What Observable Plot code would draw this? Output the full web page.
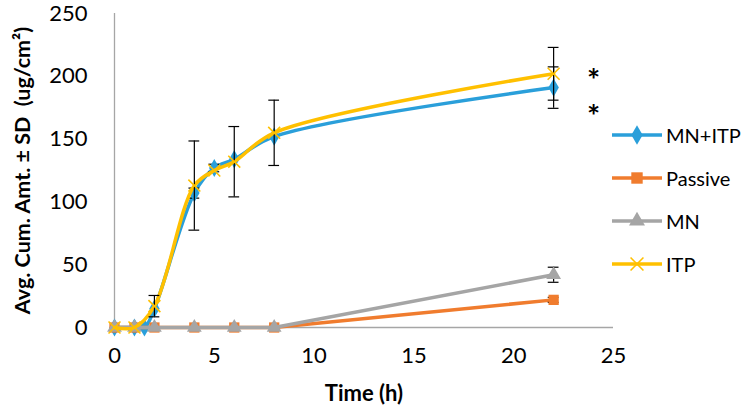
<!DOCTYPE html>
<html>
<head>
<meta charset="utf-8">
<script src="https://cdn.jsdelivr.net/npm/d3@7"></script>
<script src="https://cdn.jsdelivr.net/npm/@observablehq/plot@0.6"></script>
<style>
  html, body { margin: 0; padding: 0; background: #fff; }
  #wrap { position: relative; width: 743px; height: 416px; font-family: Lato, "Open Sans", sans-serif; }
  #legend { position: absolute; left: 611px; top: 113px; }
  .row { display: flex; align-items: center; height: 43px; font-size: 20px; color: #000; white-space: nowrap; }
  .row span { margin-left: 3px; }
</style>
</head>
<body>
<div id="wrap"><div id="legend"></div></div>
<script>
// ---- data ----
const seriesNames = ["MN+ITP", "Passive", "MN", "ITP"];
const seriesColors = ["#2A9FDA", "#F07C2E", "#A5A5A5", "#FFC000"];
const seriesSymbols = ["diamond", "square", "triangle", "times"];

const timeMNITP = [0, 1, 1.5, 2, 4, 5, 6, 8, 22];
const valMNITP  = [0, 0, 0, 15, 107, 127, 134, 152, 191];
const errMNITP  = [0, 0, 0, 0, 4, 3, 0, 0, 16.5];

const timePassive = [0, 1, 2, 4, 6, 8, 22];
const valPassive  = [0, 0, 0, 0, 0, 0, 22];
const errPassive  = [0, 0, 0, 0, 0, 0, 2];

const timeMN = [0, 1, 2, 4, 6, 8, 22];
const valMN  = [0, 0, 0, 0, 0, 0, 42];
const errMN  = [0, 0, 0, 0, 0, 0, 6];

const timeITP = [0, 1, 2, 4, 5, 6, 8, 22];
const valITP  = [0, 0, 17, 113, 125, 132, 155, 202];
const errITP  = [0, 0, 8.5, 35.5, 0, 28, 26, 21];

const xTicks = [0, 5, 10, 15, 20, 25];
const yTicks = [0, 50, 100, 150, 200, 250];

const starTimes = [24, 24];
const starValues = [203, 175];

const xLabel = "Time (h)";
const yLabel = "Avg. Cum. Amt. ± SD  (ug/cm²)";

// ---- build tables ----
function table(name, ts, vs, es) {
  return ts.map((t, i) => ({series: name, t, v: vs[i], e: es[i]}));
}
const tables = [
  table("MN+ITP", timeMNITP, valMNITP, errMNITP),
  table("Passive", timePassive, valPassive, errPassive),
  table("MN", timeMN, valMN, errMN),
  table("ITP", timeITP, valITP, errITP)
];
const curves = ["catmull-rom", "linear", "linear", "catmull-rom"];
const stars = starTimes.map((t, i) => ({t, v: starValues[i]}));
const capHalf = 0.27;

const marks = [
  Plot.ruleY([0], {stroke: "#A6A6A6", strokeWidth: 1.3}),
  Plot.ruleX([0], {stroke: "#A6A6A6", strokeWidth: 1.3}),
  // tick labels through the scales
  Plot.text(yTicks, {y: d => d, frameAnchor: "left", textAnchor: "end", dx: -27, text: d => String(d), fontSize: 22, fill: "#000"}),
  Plot.text(xTicks, {x: d => d, frameAnchor: "bottom", dy: 35, text: d => String(d), fontSize: 22, fill: "#000"})
];
tables.forEach((data, k) => {
  const color = seriesColors[k];
  marks.push(Plot.line(data, {x: "t", y: "v", stroke: color, strokeWidth: 3.5, curve: curves[k]}));
  const eb = data.filter(d => d.e > 0);
  marks.push(Plot.ruleX(eb, {x: "t", y1: d => d.v - d.e, y2: d => d.v + d.e, stroke: "#000", strokeWidth: 1.2}));
  marks.push(Plot.ruleY(eb, {y: d => d.v + d.e, x1: d => d.t - capHalf, x2: d => d.t + capHalf, stroke: "#000", strokeWidth: 1.2}));
  marks.push(Plot.ruleY(eb, {y: d => d.v - d.e, x1: d => d.t - capHalf, x2: d => d.t + capHalf, stroke: "#000", strokeWidth: 1.2}));
  const sym = seriesSymbols[k];
  if (sym === "times") {
    marks.push(Plot.dot(data, {x: "t", y: "v", symbol: "times", stroke: color, strokeWidth: 1.6, r: 5.5}));
  } else {
    marks.push(Plot.dot(data, {x: "t", y: "v", symbol: sym, fill: color, stroke: "none", r: sym === "square" ? 5.8 : 5.5}));
  }
});
marks.push(Plot.text(stars, {x: "t", y: "v", text: () => "*", fontSize: 31, fontWeight: "bold", dy: 9, fill: "#000"}));
marks.push(Plot.text([xLabel], {frameAnchor: "bottom", dy: 73, text: d => d, fontSize: 22, fontWeight: "bold", fill: "#000"}));
marks.push(Plot.text([yLabel], {frameAnchor: "left", textAnchor: "middle", dx: -91, rotate: -90, text: d => d, fontSize: 21.5, fontWeight: "bold", fill: "#000"}));

const chart = Plot.plot({
  width: 743,
  height: 416,
  marginLeft: 114,
  marginRight: 130,
  marginTop: 13,
  marginBottom: 89,
  x: {domain: [0, 25], axis: null},
  y: {domain: [0, 250], axis: null},
  style: {fontFamily: "Lato, 'Open Sans', sans-serif", fontSize: "20px", color: "#000", background: "#fff", overflow: "visible"},
  marks
});
document.getElementById("wrap").prepend(chart);
chart.style.position = "absolute";
chart.style.left = "0";
chart.style.top = "0";

// ---- legend ----
const legend = d3.select("#legend");
const symMap = {diamond: d3.symbolDiamond, square: d3.symbolSquare, triangle: d3.symbolTriangle, times: d3.symbolTimes};
seriesNames.forEach((name, k) => {
  const row = legend.append("div").attr("class", "row");
  const s = row.append("svg").attr("width", 52).attr("height", 20);
  s.append("line").attr("x1", 1).attr("x2", 51).attr("y1", 10).attr("y2", 10)
    .attr("stroke", seriesColors[k]).attr("stroke-width", 3.5);
  const sym = seriesSymbols[k];
  const size = sym === "square" ? 130 : 110;
  const p = s.append("path").attr("transform", "translate(26,10)")
    .attr("d", d3.symbol(symMap[sym], size)());
  if (sym === "times") p.attr("fill", "none").attr("stroke", seriesColors[k]).attr("stroke-width", 1.6);
  else p.attr("fill", seriesColors[k]);
  row.append("span").text(name);
});
</script>
</body>
</html>
